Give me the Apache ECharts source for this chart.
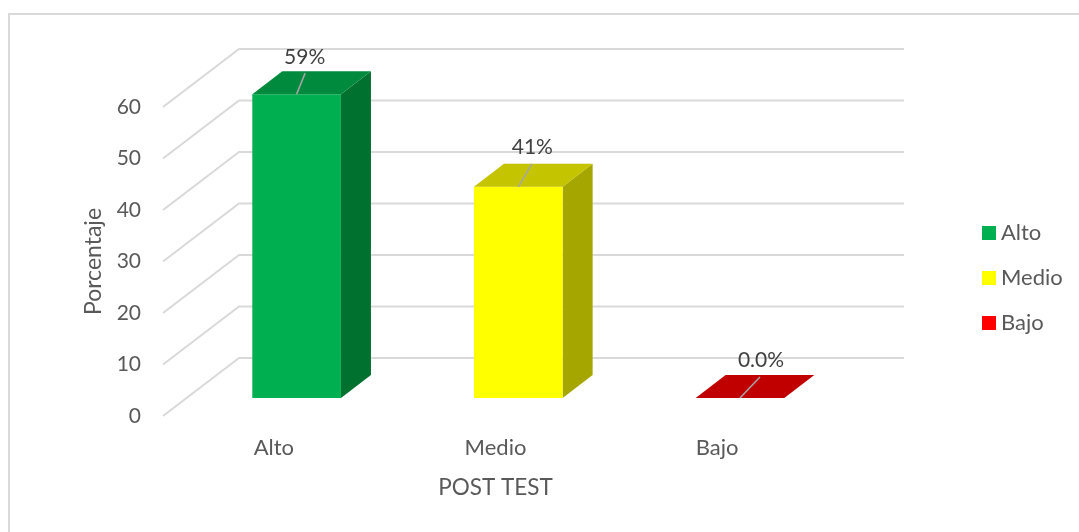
<!DOCTYPE html>
<html>
<head>
<meta charset="utf-8">
<style>html,body{margin:0;padding:0;background:#fff}#c{width:1079px;height:532px}</style>
<script src="https://cdn.jsdelivr.net/npm/echarts@6/dist/echarts.min.js"></script>
</head>
<body>
<div id="c"></div>
<script>
const categories = ['Alto', 'Medio', 'Bajo'];
const values = [59, 41, 0];
const valueLabels = ['59%', '41%', '0.0%'];
const yTicks = [0, 10, 20, 30, 40, 50, 60];
const xTitle = 'POST TEST';
const yTitle = 'Porcentaje';

const FRONT = ['#00B050', '#FFFF00', '#FF0000'];
const TOP = ['#008A3E', '#C4C400', '#C00000'];
const SIDE = ['#00712F', '#A6A600', '#A00000'];
const FONT = 'Lato, sans-serif';

// Oblique projection constants of the fake 3D scene
const WALL = [76, -58], BAR_SHIFT = [22.8, -18], BAR_DEPTH = [30, -23], BAR_RATIO = 0.4;
// Data label placement relative to the bar's front-top centre
const LEADER_END = [[8.5, -21], [13.5, -23], [20, -21]];
const LABEL_POS = [[8, -37], [14, -40], [21, -38]];

const chart = echarts.init(document.getElementById('c'), null, {renderer: 'canvas'});

const poly = (pts, fill) => ({type: 'polygon', shape: {points: pts}, style: {fill: fill}});

function barItem(i) {
  return function (params, api) {
    const base = api.coord([api.value(0), 0]);
    const top = api.coord([api.value(0), api.value(1)]);
    const w = api.size([1, 0])[0] * BAR_RATIO;
    const cx = base[0] + BAR_SHIFT[0];
    const l = cx - w / 2, r = cx + w / 2;
    const yb = base[1] + BAR_SHIFT[1], yt = top[1] + BAR_SHIFT[1];
    const [dx, dy] = BAR_DEPTH;
    const children = [
      poly([[r, yt], [r + dx, yt + dy], [r + dx, yb + dy], [r, yb]], SIDE[i]),
      poly([[l, yb], [r, yb], [r, yt], [l, yt]], FRONT[i]),
      poly([[l, yt], [r, yt], [r + dx, yt + dy], [l + dx, yt + dy]], TOP[i]),
      {type: 'line', shape: {x1: cx, y1: yt, x2: cx + LEADER_END[i][0], y2: yt + LEADER_END[i][1]},
       style: {stroke: '#A6A6A6', lineWidth: 1.5}},
      {type: 'text', x: cx + LABEL_POS[i][0], y: yt + LABEL_POS[i][1],
       style: {text: valueLabels[i], fill: '#404040', font: '21px ' + FONT, align: 'center', verticalAlign: 'middle'}}
    ];
    return {type: 'group', children: children};
  };
}

function wallItem(params, api) {
  const cs = params.coordSys;
  const y = api.coord([0, api.value(1)])[1];
  const xb = cs.x + WALL[0], yb = y + WALL[1];
  return {type: 'polyline', shape: {points: [[cs.x, y], [xb, yb], [xb + cs.width, yb]]},
    style: {fill: null, stroke: '#D9D9D9', lineWidth: 2}};
}

const series = [{
  type: 'custom', name: 'wall', silent: true, z: 1,
  renderItem: wallItem, encode: {x: 0, y: 1},
  data: yTicks.map(t => [categories[0], t])
}];
categories.forEach((c, i) => series.push({
  type: 'custom', name: c, z: 2 + i,
  itemStyle: {color: FRONT[i]},
  renderItem: barItem(i), encode: {x: 0, y: 1},
  data: [[c, values[i]]]
}));

chart.setOption({
  animation: false,
  backgroundColor: '#fff',
  grid: {left: 163, top: 107, width: 665, height: 309, containLabel: false},
  xAxis: {
    type: 'category', data: categories,
    name: xTitle, nameLocation: 'middle', nameGap: 60,
    nameTextStyle: {color: '#595959', fontSize: 22.5, fontFamily: FONT},
    axisLine: {show: false}, axisTick: {show: false}, splitLine: {show: false},
    axisLabel: {color: '#595959', fontSize: 22, fontFamily: FONT, margin: 21}
  },
  yAxis: {
    type: 'value', min: 0, max: 60, interval: 10,
    name: yTitle, nameLocation: 'middle', nameGap: 58,
    nameTextStyle: {color: '#595959', fontSize: 23, fontFamily: FONT},
    axisLine: {show: false}, axisTick: {show: false}, splitLine: {show: false},
    axisLabel: {color: '#595959', fontSize: 21, fontFamily: FONT, margin: 22, padding: [4, 0, 0, 0]}
  },
  legend: {
    orient: 'vertical', left: 977, top: 217, icon: 'rect',
    itemWidth: 14, itemHeight: 14, itemGap: 23, data: categories,
    selectedMode: false,
    textStyle: {color: '#595959', fontSize: 22, fontFamily: FONT, padding: [0, 0, 0, 0]}
  },
  graphic: [{type: 'rect', silent: true, z: -1,
    shape: {x: 9, y: 14, width: 1200, height: 700},
    style: {fill: '#fff', stroke: '#D9D9D9', lineWidth: 2}}],
  series: series
});
</script>
</body>
</html>
